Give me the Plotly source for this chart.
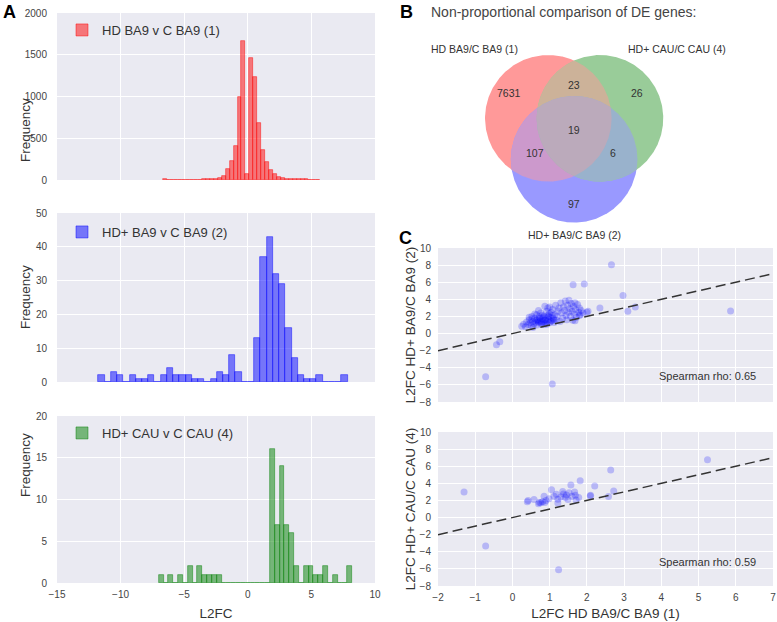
import numpy as np
import plotly.graph_objects as go

FONT = "Liberation Sans, Arial, sans-serif"
BG = "#EAEAF2"

# ---- A: L2FC histograms (first bin edge, bin width, counts per bin)
h1_label = "HD BA9 v C BA9 (1)"
h1_start, h1_width = -6.7, 0.31
h1_counts = [10, 2, 1, 1, 2, 1, 2, 2, 3, 4,
             8, 10, 10, 12, 20, 50, 130, 230, 410, 1000,
             1670, 70, 1460, 1230, 680, 360, 210, 120, 70, 40,
             25, 15, 15, 10, 8, 8, 8, 6, 4, 3]

h2_label = "HD+ BA9 v C BA9 (2)"
h2_start, h2_width = -11.75, 0.49
h2_counts = [2, 0, 3, 2, 0, 2, 1, 1, 2, 0,
             2, 4, 2, 2, 2, 1, 1, 0, 1, 3,
             2, 8, 3, 0, 0, 13, 37, 43, 32, 29,
             16, 7, 2, 1, 1, 2, 0, 0, 0, 2]

h3_label = "HD+ CAU v C CAU (4)"
h3_start, h3_width = -7.0, 0.38
h3_counts = [1, 0, 1, 0, 1, 0, 2, 0, 2, 1,
             1, 1, 1, 0, 0, 0, 0, 0, 0, 0,
             0, 0, 0, 16, 7, 14, 7, 6, 2, 0,
             2, 2, 1, 1, 2, 0, 1, 0, 0, 2]

# ---- B: venn (sets 1, 2, 4), region code = membership in (1, 2, 4)
venn_sets = ["HD BA9/C BA9 (1)", "HD+ BA9/C BA9 (2)", "HD+ CAU/C CAU (4)"]
venn_regions = ["100", "010", "001", "110", "101", "011", "111"]
venn_counts = [7631, 97, 26, 107, 23, 6, 19]

# ---- C: L2FC scatter vs set 1
c1_x = [-0.72, -0.43, -0.34, 1.07, 1.63, 1.93, 2.66, 2.97, 2.35, 3.3, 3.1, 5.86, 2.03, 1.8, 1.68,
        0.25, 0.3, 0.35, 0.38, 0.42, 0.45, 0.48, 0.5, 0.52, 0.55, 0.58, 0.6, 0.62, 0.65, 0.66,
        0.68, 0.7, 0.72, 0.74, 0.76, 0.78, 0.8, 0.82, 0.84, 0.86, 0.88, 0.9, 0.92, 0.94, 0.96,
        0.98, 1.0, 1.0, 1.02, 1.04, 1.06, 1.08, 1.1, 1.12, 1.14, 1.16, 1.18, 1.2, 1.22, 0.87,
        0.95, 0.7, 0.6, 0.45, 0.55, 0.52, 0.64, 0.73, 0.77, 0.83, 0.89, 0.93, 0.97, 1.03, 1.07,
        1.11, 0.69, 0.79, 0.85, 0.99,
        1.25, 1.28, 1.3, 1.32, 1.35, 1.37, 1.4, 1.42, 1.44, 1.46, 1.48, 1.5, 1.52, 1.54, 1.56,
        1.58, 1.6, 1.62, 1.64, 1.66, 1.68, 1.7, 1.72, 1.75, 1.78, 1.8, 1.82, 1.85, 1.9, 2.0]
c1_y = [-5.05, -1.3, -0.95, -5.9, 5.7, 5.8, 8.05, 4.45, 3.0, 3.1, 2.6, 2.63, 2.6, 2.1, 1.5,
        0.85, 1.1, 0.8, 1.35, 1.05, 1.6, 1.25, 0.95, 2.0, 1.45, 1.15, 1.8, 1.35, 2.2, 1.0,
        1.6, 1.25, 1.95, 1.45, 2.4, 1.1, 1.7, 1.35, 2.05, 1.55, 1.2, 1.85, 2.6, 1.4, 2.15,
        1.65, 1.25, 3.1, 1.9, 2.45, 1.5, 2.8, 1.75, 1.3, 2.2, 3.3, 1.55, 2.0, 2.6, 3.2,
        3.0, 2.7, 2.3, 1.9, 0.7, 1.7, 1.55, 1.8, 1.3, 1.9, 1.6, 1.1, 1.95, 1.45, 2.1,
        1.6, 1.45, 2.1, 1.05, 2.35,
        3.0, 1.4, 3.6, 2.4, 1.8, 3.1, 2.7, 3.8, 2.1, 1.6, 3.3, 2.5, 3.9, 2.9, 2.0,
        3.5, 2.6, 1.55, 3.2, 2.3, 3.6, 2.8, 1.9, 3.4, 2.5, 3.0, 2.2, 2.7, 2.4, 2.5]
c1_label = "L2FC HD+ BA9/C BA9 (2)"
c1_rho = "Spearman rho: 0.65"

c2_x = [-1.3, -0.72, 1.24, 5.24, 2.64, 2.72, 2.58, 2.21, 2.1, 1.82, 1.57, 1.05, 0.4, 0.42,
        0.58, 0.7, 0.76, 0.81, 0.85, 0.87, 0.98, 1.12, 1.18, 1.22, 1.22, 1.35, 1.37, 1.42,
        1.45, 1.49, 1.67, 1.69, 1.71, 1.78, 2.09, 0.9, 1.3, 0.72, 1.52, 1.6]
c2_y = [3.0, -3.33, -6.1, 6.76, 5.55, 3.1, 2.45, 3.7, 2.6, 4.3, 3.8, 3.25, 1.86, 2.0,
        2.1, 1.6, 1.73, 1.85, 2.5, 1.77, 2.2, 2.5, 2.73, 1.71, 2.14, 3.05, 2.75, 2.34,
        2.65, 2.1, 3.0, 2.61, 2.06, 2.34, 2.53, 2.0, 2.4, 1.75, 2.9, 2.5]
c2_label = "L2FC HD+ CAU/C CAU (4)"
c2_rho = "Spearman rho: 0.59"
x_label = "L2FC HD BA9/C BA9 (1)"

fig = go.Figure()

# histograms
hists = [(h1_start, h1_width, h1_counts, "255,0,0", h1_label, "legend"),
         (h2_start, h2_width, h2_counts, "0,0,255", h2_label, "legend2"),
         (h3_start, h3_width, h3_counts, "0,128,0", h3_label, "legend3")]
for i, (start, width, counts, rgb, label, leg) in enumerate(hists):
    n = "" if i == 0 else str(i + 1)
    centres = start + width * (np.arange(len(counts)) + 0.5)
    fig.add_trace(go.Bar(
        x=centres, y=counts, width=width, name=label, legend=leg,
        marker=dict(color=f"rgba({rgb},0.5)",
                    line=dict(color=f"rgba({rgb},0.65)", width=0.7)),
        xaxis="x" + n, yaxis="y" + n, hoverinfo="skip"))

# venn: equal circles, non-proportional
venn_r = 1.0
venn_centres = [(-0.408, 0.0), (0.0, -0.648), (0.408, 0.0)]
set_rgb = [(1, 0, 0), (0, 0, 1), (0, 0.5, 0)]
label_pos = {"100": (-1.03, 0.40), "010": (0, -1.35), "001": (1.0, 0.40),
             "110": (-0.62, -0.55), "101": (0, 0.53), "011": (0.61, -0.55),
             "111": (0, -0.19)}
set_label_pos = [(-1.57, 1.10), (0, -1.84), (1.62, 1.10)]


def region_colour(code):
    members = [k for k, c in enumerate(code) if c == "1"]
    mix = np.mean([set_rgb[k] for k in members], axis=0)
    c = 1 - 0.4 * (1 - mix)
    return "rgb({},{},{})".format(*[int(round(v * 255)) for v in c])


def disk_intersection(members, n=900):
    xs, ys = [], []
    t = np.linspace(0, 2 * np.pi, n, endpoint=False)
    for i in members:
        cx, cy = venn_centres[i]
        x = cx + venn_r * np.cos(t)
        y = cy + venn_r * np.sin(t)
        keep = np.ones(n, bool)
        for j in members:
            if j != i:
                ox, oy = venn_centres[j]
                keep &= (x - ox) ** 2 + (y - oy) ** 2 <= venn_r ** 2 + 1e-9
        xs.extend(x[keep])
        ys.extend(y[keep])
    xs, ys = np.array(xs), np.array(ys)
    order = np.argsort(np.arctan2(ys - ys.mean(), xs - xs.mean()))
    xs, ys = xs[order], ys[order]
    return np.append(xs, xs[0]), np.append(ys, ys[0])


for code in sorted(venn_regions, key=lambda c: c.count("1")):
    members = [k for k, c in enumerate(code) if c == "1"]
    vx, vy = disk_intersection(members)
    fig.add_trace(go.Scatter(
        x=vx, y=vy, mode="lines", fill="toself", fillcolor=region_colour(code),
        line=dict(width=0), xaxis="x4", yaxis="y4", showlegend=False, hoverinfo="skip"))

# scatters
for n, xs, ys in [("5", c1_x, c1_y), ("6", c2_x, c2_y)]:
    fig.add_trace(go.Scatter(
        x=xs, y=ys, mode="markers",
        marker=dict(color="rgba(0,0,255,0.22)", size=7, line=dict(width=0)),
        xaxis="x" + n, yaxis="y" + n, showlegend=False, hoverinfo="skip"))
    fig.add_trace(go.Scatter(
        x=[-2, 7], y=[-2, 7], mode="lines",
        line=dict(color="#333333", width=1.5, dash="10px,5px"),
        xaxis="x" + n, yaxis="y" + n, showlegend=False, hoverinfo="skip"))

W, H = 777, 622


def px_x(a, b):
    return [a / W, b / W]


def px_y(top, bottom):
    return [1 - bottom / H, 1 - top / H]


tick_font = dict(family=FONT, size=10, color="#444444")
title_font = dict(family=FONT, size=13.5, color="#333333")
ax = dict(showgrid=True, gridcolor="white", gridwidth=1, zeroline=False,
          showline=False, ticks="", tickfont=tick_font, fixedrange=True, automargin=False)

hist_x = px_x(57, 375)
hist_y = [px_y(13, 180), px_y(213, 382), px_y(416, 583)]
layout_axes = dict(
    xaxis=dict(ax, domain=hist_x, range=[-15, 10], dtick=5, anchor="y", showticklabels=False),
    yaxis=dict(ax, domain=hist_y[0], range=[0, 2000], dtick=500, anchor="x",
               ticklabelstandoff=9),
    xaxis2=dict(ax, domain=hist_x, range=[-15, 10], dtick=5, anchor="y2", showticklabels=False),
    yaxis2=dict(ax, domain=hist_y[1], range=[0, 50], dtick=10, anchor="x2",
                ticklabelstandoff=9),
    xaxis3=dict(ax, domain=hist_x, range=[-15, 10], dtick=5, anchor="y3",
                title=dict(text="L2FC", font=title_font, standoff=9), ticklabelstandoff=4),
    yaxis3=dict(ax, domain=hist_y[2], range=[0, 20], dtick=5, anchor="x3",
                ticklabelstandoff=9),
    xaxis4=dict(domain=px_x(420, 730), range=[-2.435, 2.462], visible=False, anchor="y4",
                fixedrange=True, automargin=False),
    yaxis4=dict(domain=px_y(40, 240), range=[-1.923, 1.237], visible=False, anchor="x4",
                fixedrange=True, automargin=False),
    xaxis5=dict(ax, domain=px_x(438, 773), range=[-2, 7], dtick=1, anchor="y5",
                showticklabels=False),
    yaxis5=dict(ax, domain=px_y(248, 402), range=[-8, 10], dtick=2, anchor="x5",
                title=dict(text=c1_label, font=title_font, standoff=0), ticklabelstandoff=6),
    xaxis6=dict(ax, domain=px_x(438, 773), range=[-2, 7], dtick=1, anchor="y6",
                title=dict(text=x_label, font=title_font, standoff=6), ticklabelstandoff=4),
    yaxis6=dict(ax, domain=px_y(432, 586), range=[-8, 10], dtick=2, anchor="x6",
                title=dict(text=c2_label, font=title_font, standoff=0), ticklabelstandoff=6),
)

leg = dict(xref="paper", yref="paper", xanchor="left", yanchor="top",
           bgcolor="rgba(0,0,0,0)", font=dict(family=FONT, size=13, color="#333333"),
           itemclick=False, itemdoubleclick=False)

annotations = []
for dom in hist_y:
    annotations.append(dict(x=16 / W, y=sum(dom) / 2, xref="paper", yref="paper",
                            text="Frequency", textangle=-90, showarrow=False,
                            font=title_font))
for code, cnt in zip(venn_regions, venn_counts):
    lx, ly = label_pos[code]
    annotations.append(dict(x=lx, y=ly, xref="x4", yref="y4", text=str(cnt), showarrow=False,
                            font=dict(family=FONT, size=10.5, color="#333333")))
for name, (lx, ly) in zip(venn_sets, set_label_pos):
    annotations.append(dict(x=lx, y=ly, xref="x4", yref="y4", text=name, showarrow=False,
                            font=dict(family=FONT, size=10.5, color="#333333")))
for txt, yref in [(c1_rho, "y5"), (c2_rho, "y6")]:
    annotations.append(dict(x=6.6, y=-5.0 if yref == "y5" else -5.2, xref=yref.replace("y", "x"),
                            yref=yref, text=txt, showarrow=False, xanchor="right",
                            font=dict(family=FONT, size=11, color="#333333")))
annotations.append(dict(x=429 / W, y=1 - 2 / H, xref="paper", yref="paper", xanchor="left",
                        yanchor="top", text="Non-proportional comparison of DE genes:",
                        showarrow=False, font=dict(family=FONT, size=14, color="#444444")))
for letter, lx, ly in [("A", 1, 0), ("B", 398, 0), ("C", 397, 226)]:
    annotations.append(dict(x=lx / W, y=1 - ly / H, xref="paper", yref="paper",
                            xanchor="left", yanchor="top", text=f"<b>{letter}</b>",
                            showarrow=False, font=dict(family=FONT, size=18, color="black")))

shapes = []
for n in ["", "2", "3", "5", "6"]:
    shapes.append(dict(type="rect", xref=f"x{n} domain", yref=f"y{n} domain",
                       x0=0, x1=1, y0=0, y1=1, fillcolor=BG, line=dict(width=0),
                       layer="below"))

fig.update_layout(
    width=W, height=H, margin=dict(l=0, r=0, t=0, b=0),
    paper_bgcolor="white", plot_bgcolor="white",
    font=dict(family=FONT, color="#333333"),
    bargap=0, barmode="overlay",
    legend=dict(leg, x=62 / W, y=1 - 15 / H),
    legend2=dict(leg, x=62 / W, y=1 - 217 / H),
    legend3=dict(leg, x=62 / W, y=1 - 418 / H),
    annotations=annotations, shapes=shapes,
    **layout_axes,
)

# the page's default body margin would offset the figure by 8px
fig.write_html("out.html", config={"displayModeBar": False},
               post_script="document.body.style.margin='0';")
